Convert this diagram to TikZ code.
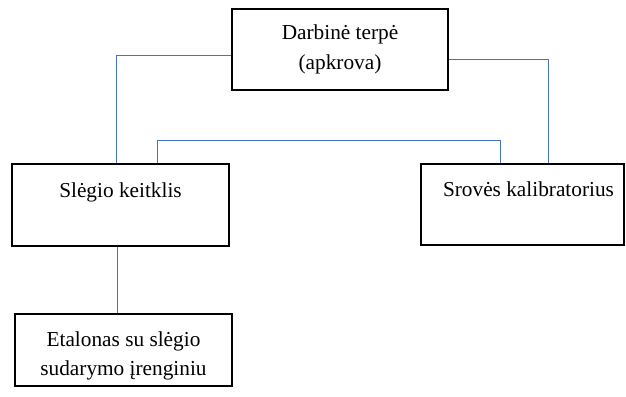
\documentclass[tikz,border=0pt]{standalone}
\usepackage{fontspec}
\setmainfont{Liberation Serif}
\definecolor{linkblue}{HTML}{4472C4}
\begin{document}
\begin{tikzpicture}[x=1pt,y=-1pt,
  box/.style={draw=black,line width=1.6pt,rectangle,inner sep=0pt,align=center,
    font=\fontsize{21.3}{29.5}\selectfont},
  conn/.style={draw=linkblue,line width=1pt}]
\useasboundingbox (0,0) rectangle (626,396);
\node[box,minimum width=216pt,minimum height=81pt] (top) at (340,49.5) {Darbinė terpė\\(apkrova)};
\node[box,minimum width=217pt,minimum height=82pt] (sk) at (120.5,205) {Slėgio keitklis\\[-8pt]\strut};
\node[box,minimum width=203pt,minimum height=81pt] (sr) at (522.5,204.5) {\hspace*{12pt}Srovės kalibratorius\\[-8pt]\strut};
\node[box,minimum width=217pt,minimum height=72pt] (et) at (123.5,350) {\rule{0pt}{27pt}Etalonas su slėgio\\sudarymo įrenginiu};
\coordinate (mid) at (0,140);
\draw[conn] ([yshift=-6.5pt]top.west) -| ([xshift=-4.5pt]sk.north);
\draw[conn] ([yshift=-10.5pt]top.east) -| ([xshift=25.5pt]sr.north);
\draw[conn] ([xshift=36.5pt]sk.north) -- ([xshift=36.5pt]sk.north |- mid) -| ([xshift=-22.5pt]sr.north);
\draw[conn] ([xshift=-3.5pt]sk.south) -- ([xshift=-3.5pt]sk.south |- et.north);
\end{tikzpicture}
\end{document}
